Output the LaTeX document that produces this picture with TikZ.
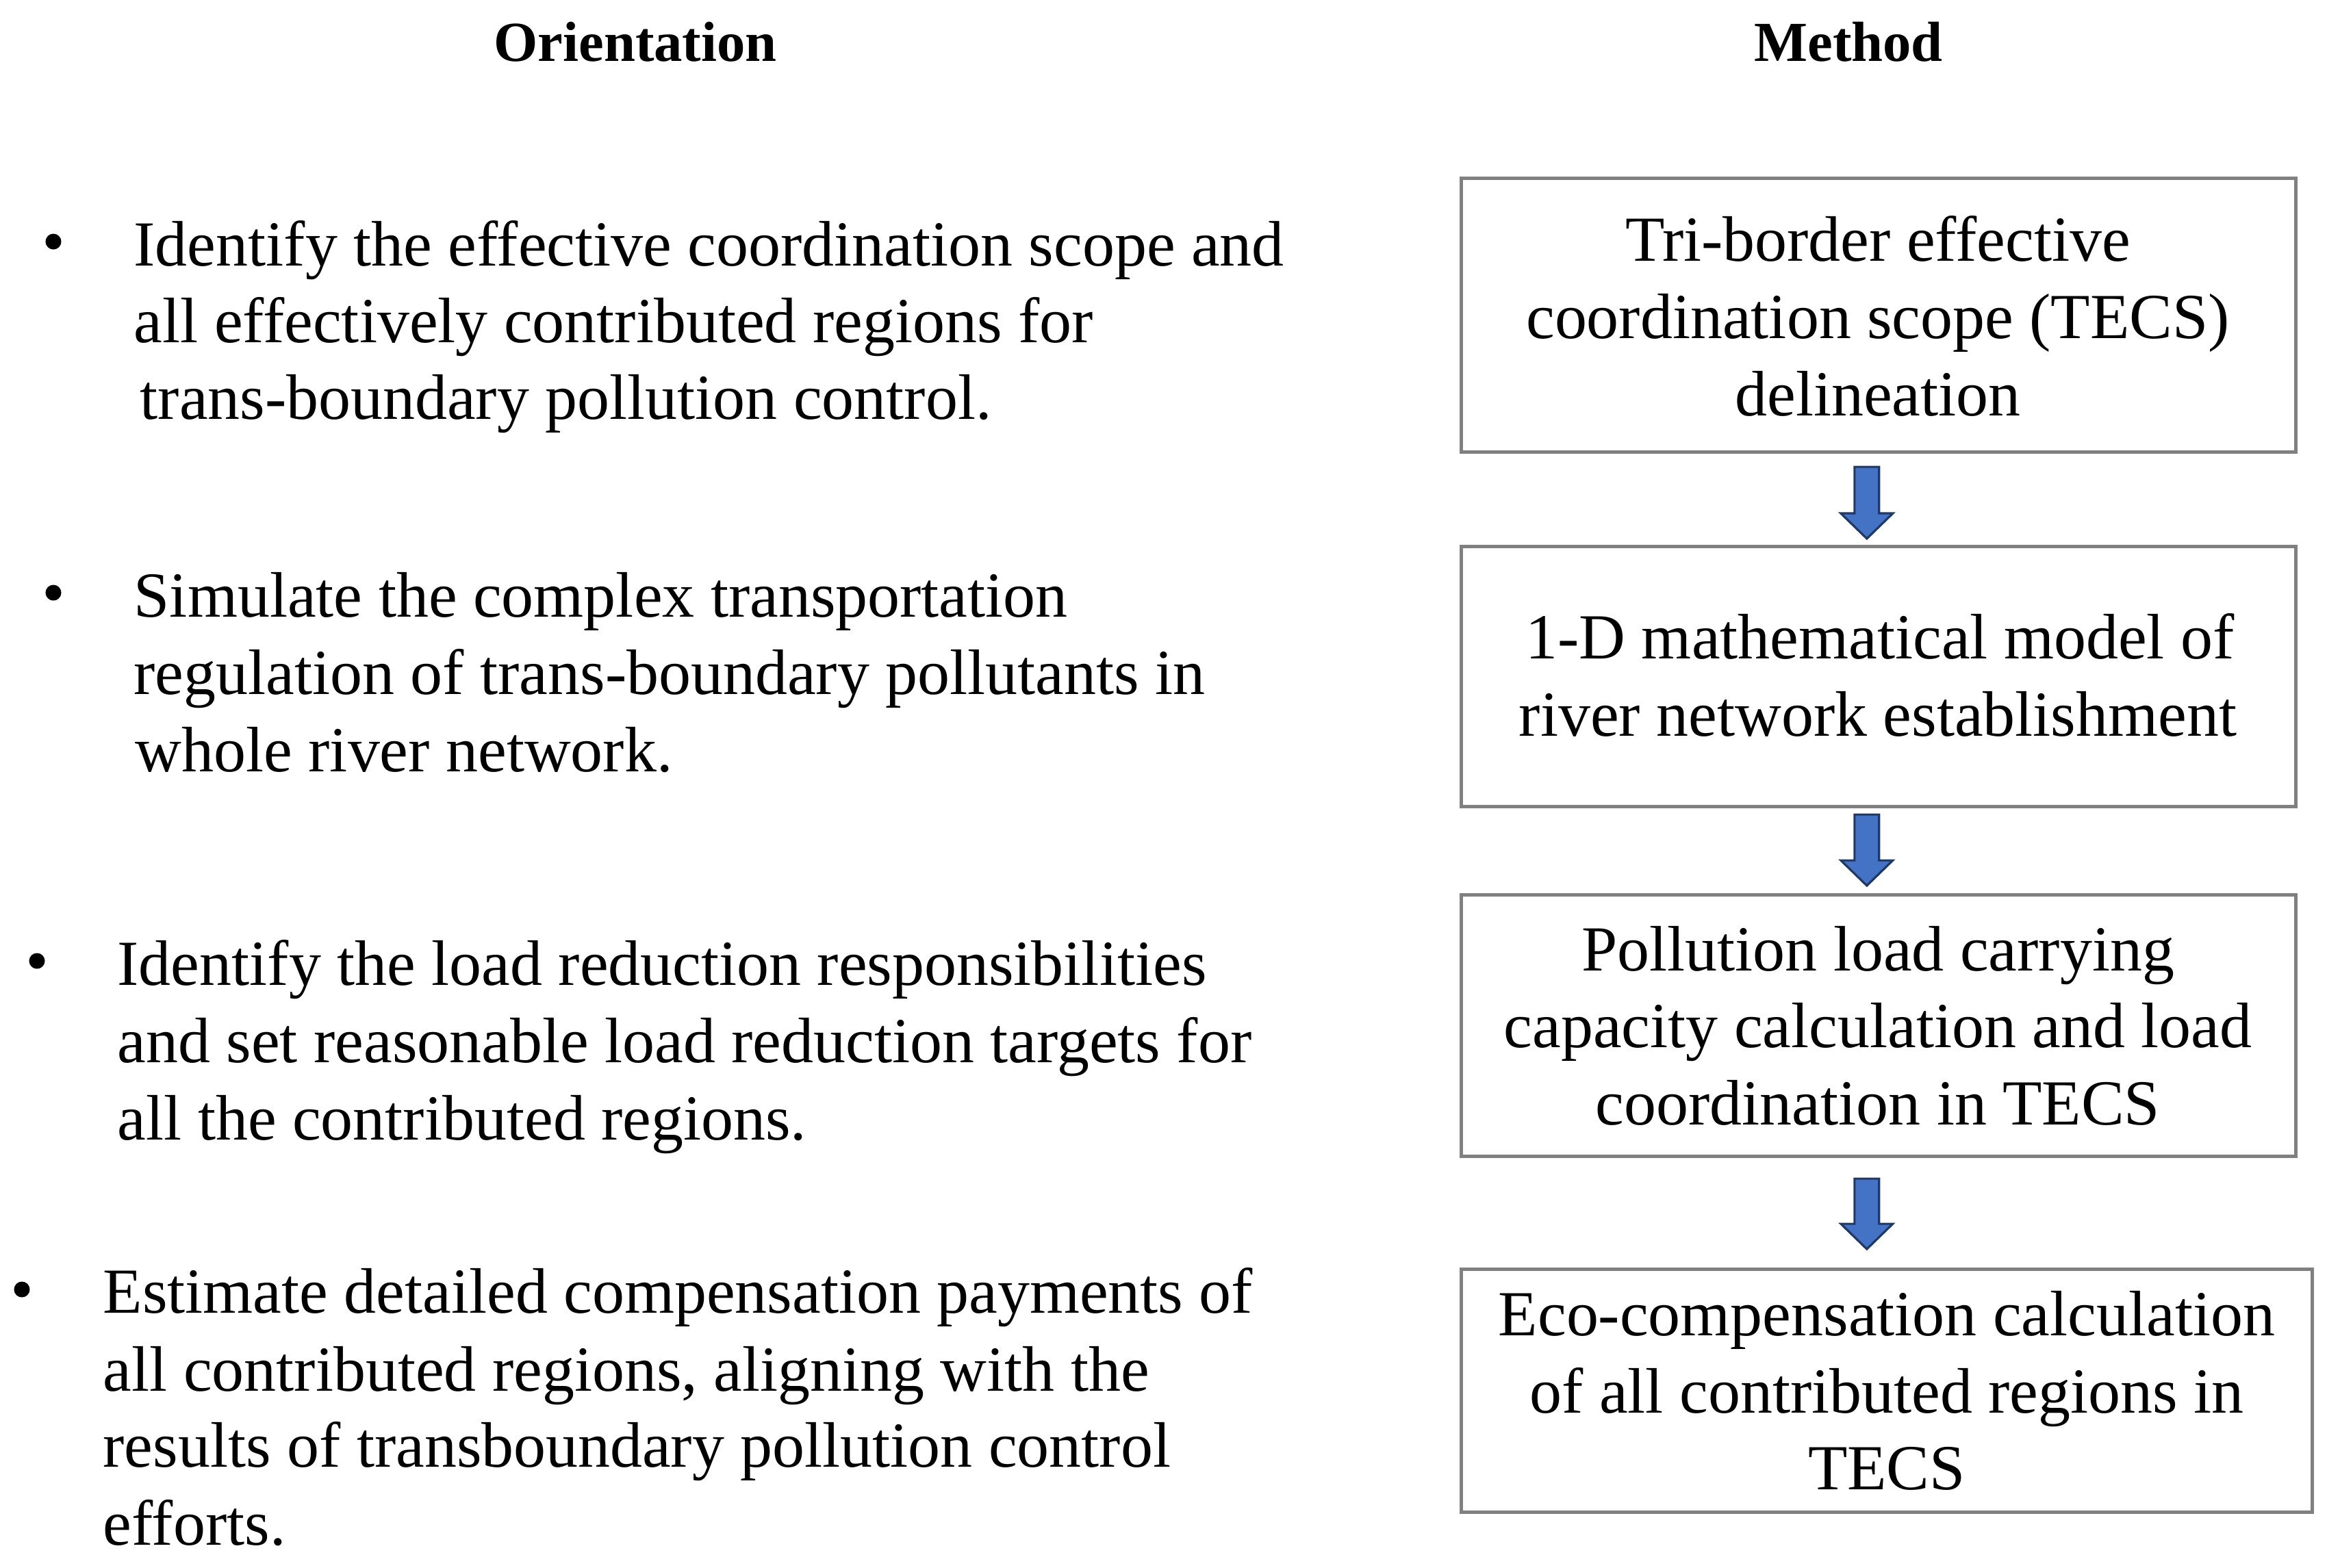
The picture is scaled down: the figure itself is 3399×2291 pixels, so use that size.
\documentclass[tikz,border=0pt]{standalone}
\usepackage{fontspec}
\setmainfont{Liberation Serif}
\usetikzlibrary{calc}
\definecolor{boxgray}{RGB}{128,128,128}
\definecolor{arrowfill}{RGB}{68,114,196}
\definecolor{arrowdraw}{RGB}{31,56,100}
\newcommand{\blockarrow}[2]{%
  \path[barrow] let \p1=(#1), \p2=(#2) in
    (\x1-5.1pt,\y1) -- (\x1+5.1pt,\y1) -- (\x1+5.1pt,\y2+10.5pt) --
    (\x1+10.8pt,\y2+10.5pt) -- (\x1,\y2) -- (\x1-10.8pt,\y2+10.5pt) --
    (\x1-5.1pt,\y2+10.5pt) -- cycle;}
\begin{document}
\begin{tikzpicture}[x=0.01cm,y=-0.01cm,
  hdr/.style={font=\fontsize{23.5}{28}\selectfont\bfseries, anchor=base, inner sep=0},
  txt/.style={font=\fontsize{26.7}{32}\selectfont, anchor=base west, inner sep=0},
  btxt/.style={font=\fontsize{26.7}{32}\selectfont, anchor=base, inner sep=0},
  box/.style={draw=boxgray, line width=1.4pt, anchor=north west, inner sep=0, minimum width=12.18cm},
  dot/.style={circle, fill=black, inner sep=0, minimum size=0.23cm},
  barrow/.style={fill=arrowfill, draw=arrowdraw, line width=0.9pt, line join=miter}]
\path[use as bounding box] (0,0) rectangle (3399,2291);

% headers
\node[hdr] (hO) at (928,90) {Orientation};
\node[hdr] (hM) at (2700,90) {Method};

% boxes
\node[box, minimum height=4.00cm] (b1) at (2132,258) {};
\node[box, minimum height=3.80cm] (b2) at (2132,796) {};
\node[box, minimum height=3.82cm] (b3) at (2132,1305) {};
\node[box, minimum height=3.55cm, minimum width=12.42cm] (b4) at (2132,1852) {};

% box texts
\node[btxt] (b1a) at (2743,381) {Tri-border effective};
\node[btxt] (b1b) at (2743,494) {coordination scope (TECS)};
\node[btxt] (b1c) at (2743,607) {delineation};
\node[btxt] (b2a) at (2746,962) {1-D mathematical model of};
\node[btxt] (b2b) at (2743,1075) {river network establishment};
\node[btxt] (b3a) at (2743,1418) {Pollution load carrying};
\node[btxt] (b3b) at (2743,1530) {capacity calculation and load};
\node[btxt] (b3c) at (2743,1643) {coordination in TECS};
\node[btxt] (b4a) at (2756,1951) {Eco-compensation calculation};
\node[btxt] (b4b) at (2756,2064) {of all contributed regions in};
\node[btxt] (b4c) at (2756,2176) {TECS};

% arrows between boxes
\coordinate (a1s) at ($(b1.south)+(-17,19)$);
\coordinate (a1e) at ($(b2.north)+(-17,-9)$);
\coordinate (a2s) at ($(b2.south)+(-17,9)$);
\coordinate (a2e) at ($(b3.north)+(-17,-11)$);
\coordinate (a3s) at ($(b3.south)+(-17,30)$);
\coordinate (a3e) at ($(b4.north)+(-29,-27)$);
\blockarrow{a1s}{a1e}
\blockarrow{a2s}{a2e}
\blockarrow{a3s}{a3e}

% orientation bullets
\node[dot] (d1) at (78,353) {};
\node[txt] (o1a) at (195,388) {Identify the effective coordination scope and};
\node[txt] (o1b) at (195,500) {all effectively contributed regions for};
\node[txt] (o1c) at (204,612) {trans-boundary pollution control.};

\node[dot] (d2) at (78,866) {};
\node[txt] (o2a) at (195,901) {Simulate the complex transportation};
\node[txt] (o2b) at (195,1014) {regulation of trans-boundary pollutants in};
\node[txt] (o2c) at (197,1127) {whole river network.};

\node[dot] (d3) at (54,1404) {};
\node[txt] (o3a) at (171,1439) {Identify the load reduction responsibilities};
\node[txt] (o3b) at (171,1552) {and set reasonable load reduction targets for};
\node[txt] (o3c) at (171,1665) {all the contributed regions.};

\node[dot] (d4) at (32,1884) {};
\node[txt] (o4a) at (150,1918) {Estimate detailed compensation payments of};
\node[txt] (o4b) at (150,2032) {all contributed regions, aligning with the};
\node[txt] (o4c) at (150,2143) {results of transboundary pollution control};
\node[txt] (o4d) at (150,2257) {efforts.};
\end{tikzpicture}
\end{document}
